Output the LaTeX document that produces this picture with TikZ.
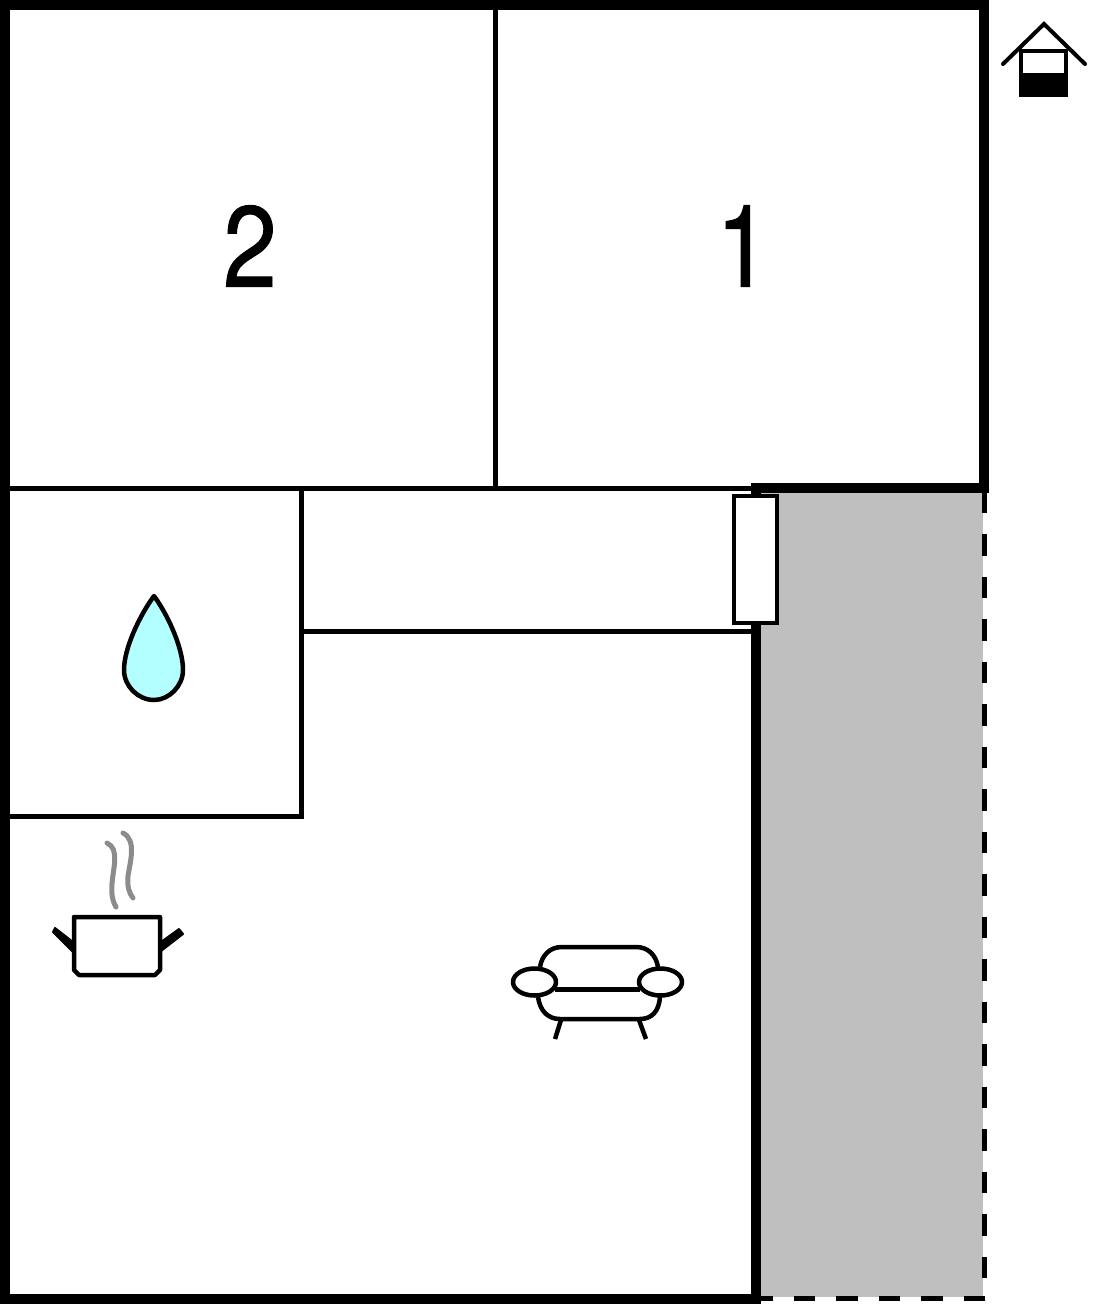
\documentclass[tikz,border=0pt]{standalone}
\usepackage{fontspec}
\newfontfamily\roomfont[FakeStretch=0.84,FakeBold=0.8]{TeX Gyre Heros}
\tikzstyle{outerwall} = [line width=10pt]
\tikzstyle{innerwall} = [line width=5pt]
\tikzstyle{terrace} = [line width=5pt,dash pattern=on 21.5pt off 21pt]
\tikzstyle{icon} = [line width=4.5pt,line join=round]
\tikzstyle{steam} = [line width=5pt,line cap=round,color=steamgrey]
\tikzstyle{handle} = [draw,fill=black,line width=2pt,line join=round]
\tikzstyle{roomnumber} = [font=\roomfont\fontsize{115}{115}\selectfont,inner sep=0pt]
\definecolor{terracegrey}{HTML}{BFBFBF}
\definecolor{steamgrey}{HTML}{8C8C8C}
\definecolor{dropblue}{HTML}{B3FFFF}

\begin{document}
\begin{tikzpicture}[x=1pt,y=-1pt]
      \useasboundingbox (0,0) rectangle (1104,1304);
      \fill[terracegrey] (756,488) rectangle (983,1297);
      \draw[innerwall] (495,5) -- (495,488);
      \draw[innerwall] (5,488) -- (752,488);
      \draw[innerwall] (301,488) -- (301,818.5);
      \draw[innerwall] (5,816) -- (301,816);
      \draw[innerwall] (301,631) -- (752,631);
      \draw[terrace] (984,491.5) -- (984,1298);
      \draw[terrace] (751,1298) -- (987,1298);
      \draw[outerwall] (984,0) -- (984,493);
      \draw[outerwall] (5,0) -- (5,1304);
      \draw[outerwall] (0,5) -- (989,5);
      \draw[outerwall] (751,488) -- (989,488);
      \draw[outerwall] (756,483) -- (756,1304);
      \draw[outerwall] (0,1298.5) -- (761,1298.5);
      \draw[icon,fill=white,line join=miter] (734,496) rectangle (777,623);
      \node[roomnumber] (room2) at (250,246) {2};
      \node[roomnumber] (room1) at (743,246) {1};
      % drop
      \draw[icon,fill=dropblue] (154,596) .. controls (140,615) and (124,648) .. (124,670)
        .. controls (124,686) and (138,700) .. (154,700)
        .. controls (169,700) and (183,686) .. (183,670)
        .. controls (183,648) and (168,615) .. (154,596) -- cycle;
      % pot
      \draw[steam] (107,843) .. controls (120,849) and (113,868) .. (112,884) .. controls (111,895) and (113,902) .. (116,907);
      \draw[steam] (123,833) .. controls (137,840) and (130,862) .. (128,876) .. controls (127,886) and (129,893) .. (133,898);
      \path[handle] (53,932) -- (55,928) -- (73,942) -- (73,952) -- cycle;
      \path[handle] (179,929) -- (183,934) -- (161,951) -- (161,942) -- cycle;
      \draw[icon,fill=white] (74,917) -- (160,917) -- (160,970) -- (155,975) -- (79,975) -- (74,970) -- cycle;
      % sofa
      \draw[icon] (540,967) .. controls (542,955) and (550,947) .. (562,947) -- (636,947) .. controls (648,947) and (656,955) .. (658,967);
      \draw[icon] (538,997) .. controls (540,1011) and (548,1019) .. (560,1019) -- (640,1019) .. controls (652,1019) and (659,1011) .. (660,997);
      \draw[icon] (555,989.5) -- (640,989.5);
      \draw[icon] (561,1020) -- (555,1039);
      \draw[icon] (639,1020) -- (646,1039);
      \draw[icon,fill=white] (534.5,982) ellipse [x radius=21.5,y radius=13.5];
      \draw[icon,fill=white] (660.5,982) ellipse [x radius=21.5,y radius=13.5];
      % house
      \fill (1019,49) rectangle (1068,97);
      \fill[white] (1023,53) rectangle (1064,73);
      \draw[line width=4pt,line cap=round,line join=miter] (1003,64) -- (1044,24) -- (1085,64);
    \end{tikzpicture}
\end{document}
